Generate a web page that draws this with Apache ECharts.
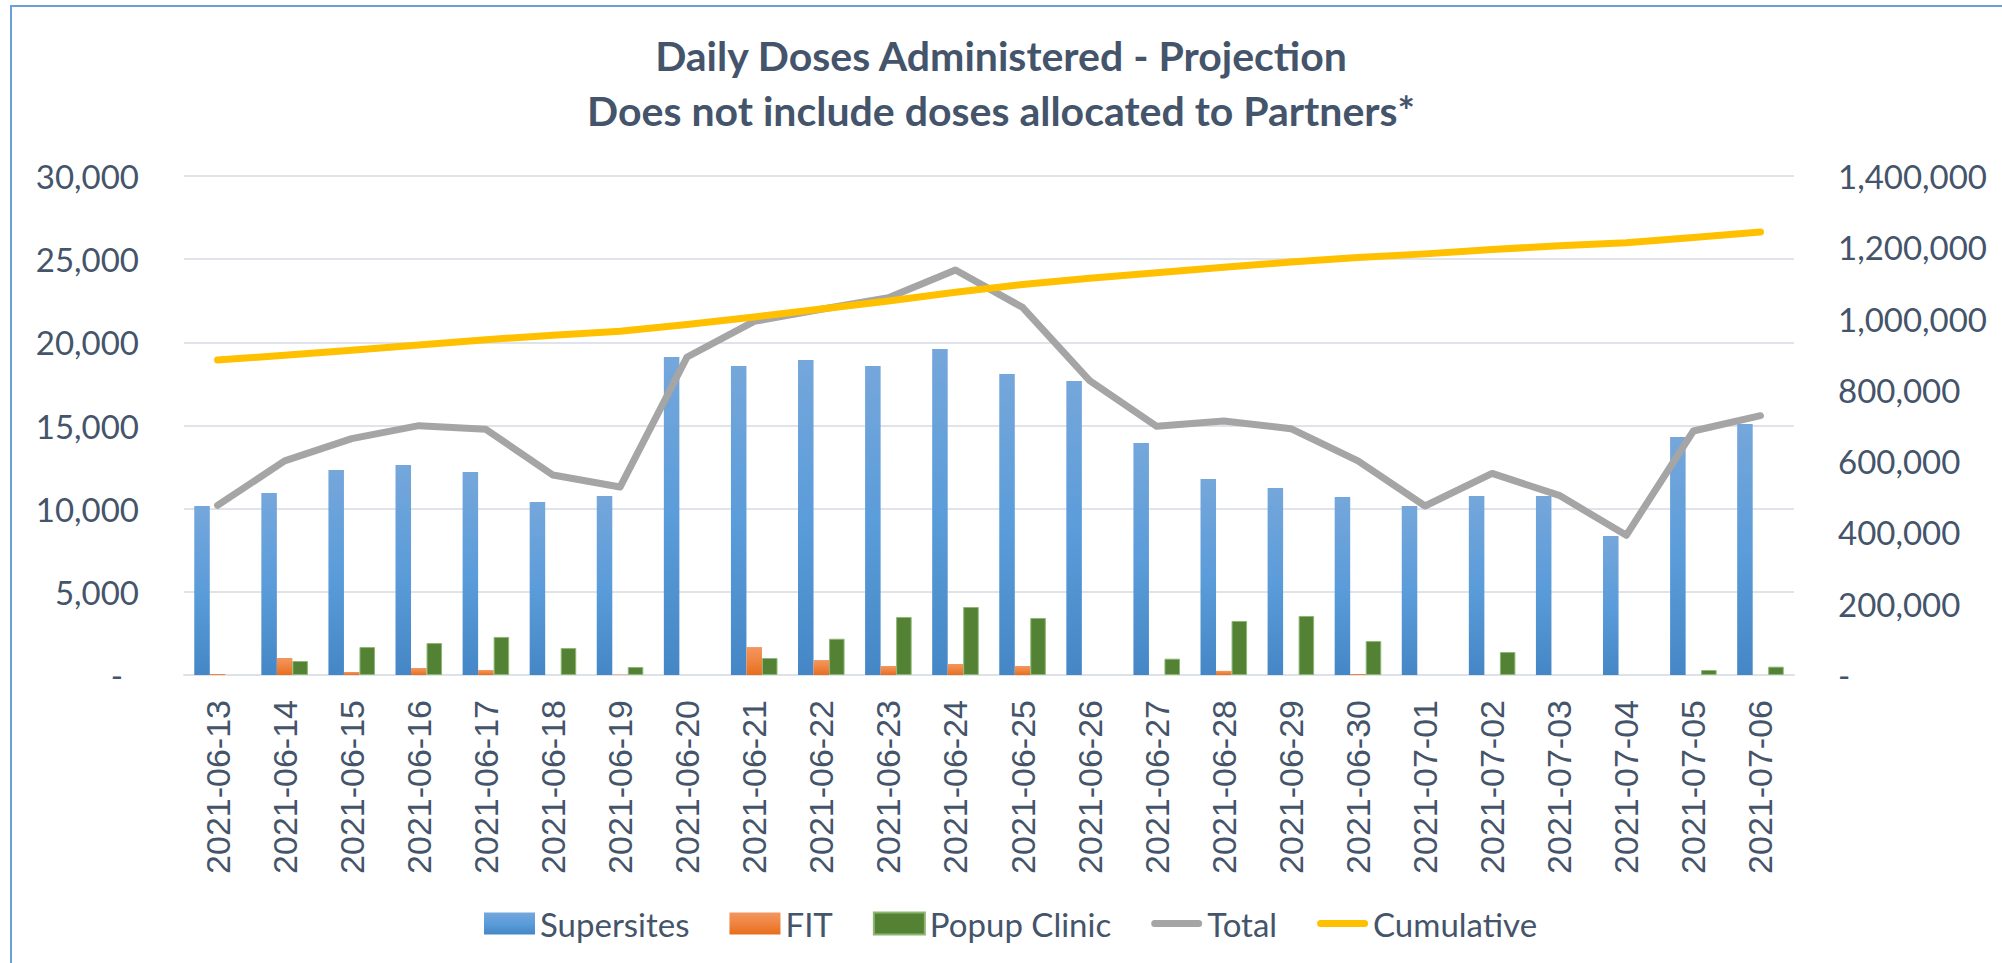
<!DOCTYPE html>
<html><head><meta charset="utf-8">
<script src="https://cdn.jsdelivr.net/npm/echarts@6/dist/echarts.min.js"></script>
<style>html,body{margin:0;padding:0;background:#fff}#c{width:2002px;height:963px}</style>
</head><body><div id="c"></div>
<script>
const titleLines = ['Daily Doses Administered - Projection', 'Does not include doses allocated to Partners*'];
const categories = ['2021-06-13','2021-06-14','2021-06-15','2021-06-16','2021-06-17','2021-06-18','2021-06-19','2021-06-20','2021-06-21','2021-06-22','2021-06-23','2021-06-24','2021-06-25','2021-06-26','2021-06-27','2021-06-28','2021-06-29','2021-06-30','2021-07-01','2021-07-02','2021-07-03','2021-07-04','2021-07-05','2021-07-06'];
const supersites = [10160,10940,12330,12630,12200,10400,10760,19120,18580,18940,18580,19600,18100,17680,13950,11780,11240,10700,10160,10760,10760,8360,14310,15090];
const fit = [60,1020,180,420,300,0,30,0,1680,900,540,660,540,0,0,250,0,60,0,0,0,0,0,0];
const popup = [0,840,1680,1920,2290,1620,480,0,1020,2180,3490,4090,3430,0,980,3250,3550,2040,0,1380,0,0,300,500];
const total = [10200,12870,14210,14990,14770,12020,11300,19120,21260,21990,22680,24350,22100,17700,14950,15270,14810,12870,10160,12120,10800,8400,14670,15590];
const cumulative = [884000,896900,911100,926100,940900,952900,964200,983300,1004600,1026600,1049300,1073600,1095700,1113400,1128400,1143700,1158500,1171400,1181500,1193600,1204400,1212800,1227500,1243100];
const leftTickLabels = ['-','5,000','10,000','15,000','20,000','25,000','30,000'];
const rightTickLabels = ['-','200,000','400,000','600,000','800,000','1,000,000','1,200,000','1,400,000'];
const seriesNames = ['Supersites','FIT','Popup Clinic','Total','Cumulative'];

const TXT = '#44546A';
const chart = echarts.init(document.getElementById('c'), null, {renderer:'svg', width:2002, height:963});
const grad = (a,b,c) => new echarts.graphic.LinearGradient(0,0,0,1,[{offset:0,color:a},{offset:0.5,color:b},{offset:1,color:c}]);
const noZero = arr => arr.map(v => v === 0 ? null : v);
const lineKey = 'path://M0,0M51,22M3.5,7.5L47.5,7.5A3.5,3.5,0,0,1,47.5,14.5L3.5,14.5A3.5,3.5,0,0,1,3.5,7.5Z';
const option = {
  animation:false,
  backgroundColor:'#ffffff',
  title:[
    {text:titleLines[0], left:'center', top:30, padding:[0,0,0,16], textStyle:{fontFamily:'Lato', fontWeight:'bold', fontSize:41, lineHeight:50, color:TXT}},
    {text:titleLines[1], left:'center', top:85, padding:[0,0,0,8], textStyle:{fontFamily:'Lato', fontWeight:'bold', fontSize:41, lineHeight:50, color:TXT}}
  ],
  graphic:[{type:'rect', silent:true, z:-10, shape:{x:11, y:6, width:2300, height:1300}, style:{fill:'none', stroke:'#6a9fd8', lineWidth:2}}],
  legend:{
    left:479, top:902, itemWidth:51, itemHeight:22, itemGap:40,
    textStyle:{fontFamily:'Lato', fontSize:33, color:TXT},
    data:[
      {name:seriesNames[0], icon:'rect'},
      {name:seriesNames[1], icon:'rect'},
      {name:seriesNames[2], icon:'rect'},
      {name:seriesNames[3], icon:lineKey},
      {name:seriesNames[4], icon:lineKey}
    ]
  },
  grid:{left:184, right:208, top:176, bottom:288, containLabel:false},
  xAxis:{
    type:'category', data:categories, boundaryGap:true,
    axisLine:{show:true, lineStyle:{color:'#dde2e9', width:2}},
    axisTick:{show:false},
    axisLabel:{interval:0, rotate:90, margin:25, fontFamily:'Liberation Sans', fontSize:34, color:TXT}
  },
  yAxis:[
    {type:'value', min:0, max:30000, interval:5000, position:'left',
     axisLine:{show:false}, axisTick:{show:false},
     splitLine:{lineStyle:{color:'#e0e4ea', width:2}},
     axisLabel:{margin:45, fontFamily:'Lato', fontSize:33, color:TXT,
       formatter:(v)=>{const i=Math.round(v/5000); return i===0?'{d|'+leftTickLabels[0]+'}':leftTickLabels[i];},
       rich:{d:{fontFamily:'Lato', fontSize:33, color:TXT, padding:[0,16,0,0]}}}},
    {type:'value', min:0, max:1400000, interval:200000, position:'right',
     axisLine:{show:false}, axisTick:{show:false}, splitLine:{show:false},
     axisLabel:{margin:44, fontFamily:'Lato', fontSize:33, color:TXT,
       formatter:(v)=>rightTickLabels[Math.round(v/200000)]}}
  ],
  series:[
    {name:seriesNames[0], type:'bar', yAxisIndex:0, data:noZero(supersites), barGap:'0%', barCategoryGap:'30.6%',
     itemStyle:{color:grad('#75a7db','#5b9cda','#4586c6')}},
    {name:seriesNames[1], type:'bar', yAxisIndex:0, data:noZero(fit), barGap:'0%', barCategoryGap:'30.6%',
     itemStyle:{color:grad('#f3975f','#ef8440','#e76e1c')}},
    {name:seriesNames[2], type:'bar', yAxisIndex:0, data:noZero(popup), barGap:'0%', barCategoryGap:'30.6%',
     itemStyle:{color:'#548235', borderColor:'#8db673', borderWidth:1}},
    {name:seriesNames[3], type:'line', yAxisIndex:0, data:total, symbol:'none', z:5,
     lineStyle:{color:'#a5a5a5', width:7, cap:'round', join:'round'}, itemStyle:{color:'#a5a5a5'}},
    {name:seriesNames[4], type:'line', yAxisIndex:1, data:cumulative, symbol:'none', z:6,
     lineStyle:{color:'#ffc000', width:7, cap:'round', join:'round'}, itemStyle:{color:'#ffc000'}}
  ]
};
chart.setOption(option);
</script></body></html>
